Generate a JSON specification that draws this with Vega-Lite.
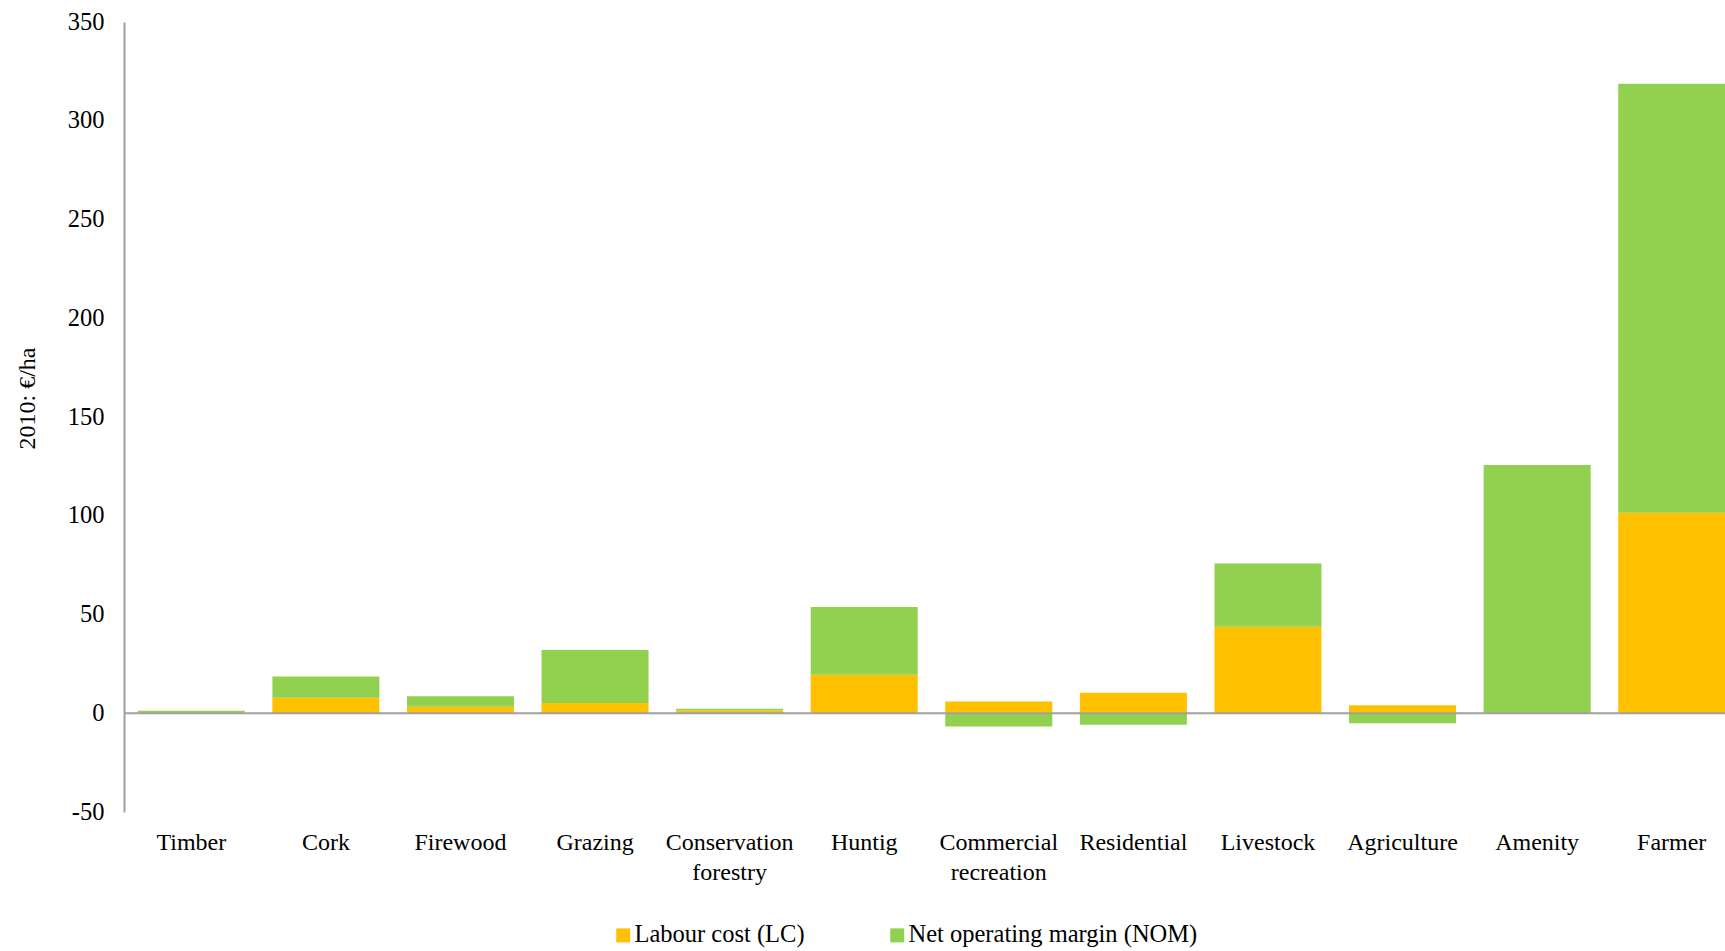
{
  "$schema": "https://vega.github.io/schema/vega-lite/v6.json",
  "autosize": {"type": "none"},
  "padding": {"left": 124, "top": 22, "right": 0, "bottom": 139},
  "width": 1615,
  "height": 790,
  "background": "white",
  "config": {
    "view": {"stroke": null},
    "font": "Liberation Serif"
  },
  "layer": [
    {
      "data": {
        "values": [
          {"cat": "Timber", "series": "Labour cost (LC)", "value": 0.3},
          {"cat": "Timber", "series": "Net operating margin (NOM)", "value": 1.0},
          {"cat": "Cork", "series": "Labour cost (LC)", "value": 7.8},
          {"cat": "Cork", "series": "Net operating margin (NOM)", "value": 10.8},
          {"cat": "Firewood", "series": "Labour cost (LC)", "value": 3.3},
          {"cat": "Firewood", "series": "Net operating margin (NOM)", "value": 5.3},
          {"cat": "Grazing", "series": "Labour cost (LC)", "value": 5.2},
          {"cat": "Grazing", "series": "Net operating margin (NOM)", "value": 26.8},
          {"cat": "Conservation forestry", "series": "Labour cost (LC)", "value": 1.4},
          {"cat": "Conservation forestry", "series": "Net operating margin (NOM)", "value": 0.9},
          {"cat": "Huntig", "series": "Labour cost (LC)", "value": 19.5},
          {"cat": "Huntig", "series": "Net operating margin (NOM)", "value": 34.3},
          {"cat": "Commercial recreation", "series": "Labour cost (LC)", "value": 5.9},
          {"cat": "Commercial recreation", "series": "Net operating margin (NOM)", "value": -6.7},
          {"cat": "Residential", "series": "Labour cost (LC)", "value": 10.4},
          {"cat": "Residential", "series": "Net operating margin (NOM)", "value": -5.8},
          {"cat": "Livestock", "series": "Labour cost (LC)", "value": 43.8},
          {"cat": "Livestock", "series": "Net operating margin (NOM)", "value": 32.0},
          {"cat": "Agriculture", "series": "Labour cost (LC)", "value": 4.1},
          {"cat": "Agriculture", "series": "Net operating margin (NOM)", "value": -5.0},
          {"cat": "Amenity", "series": "Labour cost (LC)", "value": 0},
          {"cat": "Amenity", "series": "Net operating margin (NOM)", "value": 125.7},
          {"cat": "Farmer", "series": "Labour cost (LC)", "value": 101.5},
          {"cat": "Farmer", "series": "Net operating margin (NOM)", "value": 217.2}
        ]
      },
      "mark": {"type": "bar"},
      "encoding": {
        "x": {
          "field": "cat",
          "type": "nominal",
          "sort": null,
          "scale": {"paddingInner": 0.205, "paddingOuter": 0.1025},
          "axis": {
            "title": null,
            "domain": false,
            "ticks": false,
            "labelAngle": 0,
            "labelFontSize": 24,
            "labelColor": "#000000",
            "labelPadding": 18,
            "labelLineHeight": 30,
            "labelExpr": "split(datum.label, ' ')"
          }
        },
        "y": {
          "field": "value",
          "type": "quantitative",
          "stack": "zero",
          "scale": {"domain": [-50, 350], "nice": false, "zero": false},
          "axis": {
            "title": "2010: €/ha",
            "titleFontSize": 24,
            "titleFontWeight": "normal",
            "titleColor": "#000000",
            "titleX": -97,
            "titleY": 376,
            "titleAngle": -90,
            "titleAlign": "center",
            "titleBaseline": "middle",
            "values": [-50, 0, 50, 100, 150, 200, 250, 300, 350],
            "labelExpr": "toString(datum.value)",
            "grid": false,
            "ticks": false,
            "domainColor": "#A0A0A0",
            "domainWidth": 2,
            "labelFontSize": 24.5,
            "labelColor": "#000000",
            "labelPadding": 20
          }
        },
        "color": {
          "field": "series",
          "type": "nominal",
          "scale": {
            "domain": ["Labour cost (LC)", "Net operating margin (NOM)"],
            "range": ["#FFC000", "#92D050"]
          },
          "legend": {
            "title": null,
            "orient": "none",
            "legendX": 487,
            "legendY": 901,
            "direction": "horizontal",
            "symbolType": "square",
            "symbolSize": 196,
            "symbolStrokeWidth": 0,
            "labelFontSize": 24.5,
            "labelColor": "#000000",
            "labelOffset": -1,
            "columnPadding": 80,
            "labelLimit": 400
          }
        },
        "order": {"field": "series", "sort": "ascending"}
      }
    },
    {
      "data": {"values": [{"zero": 0}]},
      "mark": {"type": "rule", "color": "#A0A0A0", "strokeWidth": 2},
      "encoding": {
        "y": {"field": "zero", "type": "quantitative"}
      }
    }
  ]
}
